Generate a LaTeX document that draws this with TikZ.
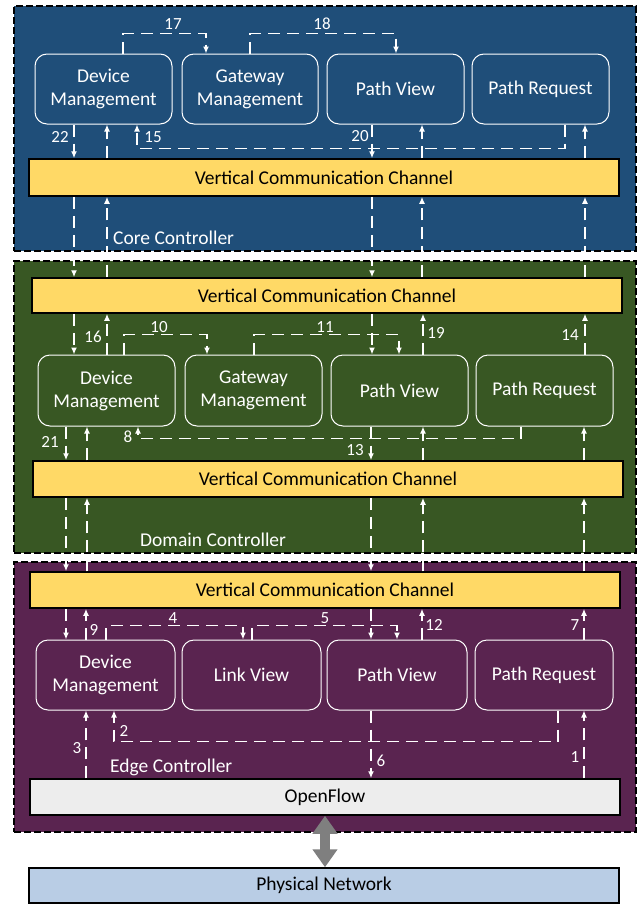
\documentclass[tikz,border=0pt]{standalone}
\usepackage{fontspec}
\setmainfont{Carlito}
\usetikzlibrary{arrows.meta}
\definecolor{coreblue}{HTML}{1F4E79}
\definecolor{domgreen}{HTML}{385723}
\definecolor{edgepurple}{HTML}{5A2450}
\definecolor{chanyellow}{HTML}{FFD966}
\definecolor{oflow}{HTML}{EDEDED}
\definecolor{physblue}{HTML}{B9CDE5}
\definecolor{linkgray}{HTML}{7F7F7F}

\begin{document}
\begin{tikzpicture}[x=1pt,y=-1pt,
  ctrl/.style={draw=black, line width=1.8pt, dash pattern=on 7pt off 3pt,
    preaction={draw=white,line width=1.8pt}, inner sep=0, minimum width=622pt},
  module/.style={draw=white, line width=1pt, rounded corners=12pt, text=white,
    align=center, inner sep=0, minimum height=70pt, minimum width=137pt,
    font=\fontsize{19.5}{23}\selectfont},
  bar/.style={draw=black, line width=1.5pt, fill=chanyellow, minimum width=590pt,
    minimum height=36pt, inner sep=0, font=\fontsize{19.5}{23}\selectfont},
  flow/.style={draw=white, line width=1.6pt, dash pattern=on 12pt off 7pt,
    -{Latex[length=7pt,width=6pt]}},
  num/.style={text=white, inner sep=0, font=\fontsize{17}{20}\selectfont},
  ctrlname/.style={text=white, inner sep=0, anchor=west,
    font=\fontsize{19.5}{23}\selectfont},
]
\useasboundingbox[fill=white] (0,0) rectangle (641,905);

% controller frames
\node[ctrl, fill=coreblue, minimum height=245pt] (core) at (325,128.5) {};
\node[ctrl, fill=domgreen, minimum height=292pt] (domain) at (325,407) {};
\node[ctrl, fill=edgepurple, minimum height=270pt] (edge) at (325,697) {};

\node[ctrlname] (corelbl) at (113,238) {Core Controller};
\node[ctrlname] (domlbl) at (140,540) {Domain Controller};
\node[ctrlname] (edgelbl) at (110,767) {Edge Controller};

% channels
\node[bar, minimum height=37pt] (vc1) at (324,177.5) {Vertical Communication Channel};
\node[bar, minimum height=35pt] (vc2) at (327,295.5) {Vertical Communication Channel};
\node[bar] (vc3) at (328,479) {Vertical Communication Channel};
\node[bar] (vc4) at (325,590) {Vertical Communication Channel};
\node[bar, fill=oflow] (of) at (325,797) {OpenFlow};
\node[bar, fill=physblue, minimum height=35pt] (pn) at (324,885.5) {Physical Network};

% core modules
\node[module] (cdm) at (103.5,89) {Device\\Management};
\node[module, minimum width=136pt] (cgm) at (250,89) {Gateway\\Management};
\node[module] (cpv) at (395.5,89) {Path View};
\node[module] (cpr) at (540.5,89) {Path Request};

% domain modules
\node[module, minimum height=71pt] (ddm) at (106.5,390.5) {Device\\Management};
\node[module, minimum height=71pt] (dgm) at (253.5,390.5) {Gateway\\Management};
\node[module, minimum height=71pt] (dpv) at (399.5,390.5) {Path View};
\node[module, minimum height=71pt] (dpr) at (544.5,390.5) {Path Request};

% edge modules
\node[module, minimum width=139pt] (edm) at (105.5,675) {Device\\Management};
\node[module, minimum width=139pt] (elv) at (251.5,675) {Link View};
\node[module, minimum width=140pt] (epv) at (397,675) {Path View};
\node[module, minimum width=138pt] (epr) at (544,675) {Path Request};

% OpenFlow <-> physical network
\draw[linkgray, line width=10pt,
  {Triangle[length=18pt,width=24pt]}-{Triangle[length=18pt,width=24pt]}]
  (of.south -| 325,0) -- (pn.north -| 325,0);

% core controller flows
\draw[flow] (cdm.south -| 74,0) -- (vc1.north -| 74,0);
\draw[flow] (vc1.north -| 107,0) -- (cdm.south -| 107,0);
\draw[flow] (cpr.south -| 565,0) -- ++(0,24) -| (cdm.south -| 137,0);
\draw[flow] (cdm.north -| 123,0) -- ++(0,-20) -| (cgm.north -| 206,0);
\draw[flow] (cgm.north -| 250,0) -- ++(0,-20) -| (cpv.north -| 396,0);
\draw[flow] (cpv.south -| 372,0) -- (vc1.north -| 372,0);
\draw[flow] (vc1.north -| 422,0) -- (cpv.south -| 422,0);
\draw[flow] (vc1.north -| 585,0) -- (cpr.south -| 585,0);

% core <-> domain
\draw[flow] (vc1.south -| 74,0) -- (vc2.north -| 74,0);
\draw[flow] (vc2.north -| 107,0) -- (vc1.south -| 107,0);
\draw[flow] (vc1.south -| 372,0) -- (vc2.north -| 372,0);
\draw[flow] (vc2.north -| 422,0) -- (vc1.south -| 422,0);
\draw[flow] (vc2.north -| 585,0) -- (vc1.south -| 585,0);

% domain controller flows
\draw[flow] (vc2.south -| 74,0) -- (ddm.north -| 74,0);
\draw[flow] (ddm.north -| 107,0) -- (vc2.south -| 107,0);
\draw[flow] (ddm.north -| 124,0) -- ++(0,-20) -| (dgm.north -| 207,0);
\draw[flow] (dgm.north -| 254,0) -- ++(0,-20) -| (dpv.north -| 399,0);
\draw[flow] (vc2.south -| 372,0) -- (dpv.north -| 372,0);
\draw[flow] (dpv.north -| 423,0) -- (vc2.south -| 423,0);
\draw[flow] (dpr.north -| 585,0) -- (vc2.south -| 585,0);

\draw[flow] (ddm.south -| 66,0) -- (vc3.north -| 66,0);
\draw[flow] (vc3.north -| 87,0) -- (ddm.south -| 87,0);
\draw[flow] (dpr.south -| 521,0) -- ++(0,12) -| (ddm.south -| 138,0);
\draw[flow] (dpv.south -| 371,0) -- (vc3.north -| 371,0);
\draw[flow] (vc3.north -| 423,0) -- (dpv.south -| 423,0);
\draw[flow] (vc3.north -| 584,0) -- (dpr.south -| 584,0);

% domain <-> edge
\draw[flow] (vc3.south -| 66,0) -- (vc4.north -| 66,0);
\draw[flow] (vc4.north -| 87,0) -- (vc3.south -| 87,0);
\draw[flow] (vc3.south -| 371,0) -- (vc4.north -| 371,0);
\draw[flow] (vc4.north -| 423,0) -- (vc3.south -| 423,0);
\draw[flow] (vc4.north -| 584,0) -- (vc3.south -| 584,0);

% edge controller flows
\draw[flow] (vc4.south -| 66,0) -- (edm.north -| 66,0);
\draw[flow] (edm.north -| 86,0) -- (vc4.south -| 86,0);
\draw[flow] (edm.north -| 106,0) -- ++(0,-14) -| (elv.north -| 243,0);
\draw[flow] (elv.north -| 252,0) -- ++(0,-14) -| (epv.north -| 397,0);
\draw[flow] (vc4.south -| 371,0) -- (epv.north -| 371,0);
\draw[flow] (epv.north -| 422,0) -- (vc4.south -| 422,0);
\draw[flow] (epr.north -| 584,0) -- (vc4.south -| 584,0);

\draw[flow] (of.north -| 86,0) -- (edm.south -| 86,0);
\draw[flow] (epr.south -| 558,0) -- ++(0,31) -| (edm.south -| 114,0);
\draw[flow] (epv.south -| 371,0) -- (of.north -| 371,0);
\draw[flow] (of.north -| 584,0) -- (epr.south -| 584,0);

% step numbers
\node[num] (n1) at (575,757) {1};
\node[num] (n2) at (124,731) {2};
\node[num] (n3) at (77,748) {3};
\node[num] (n4) at (173,618) {4};
\node[num] (n5) at (325,618) {5};
\node[num] (n6) at (381,761) {6};
\node[num] (n7) at (575,625) {7};
\node[num] (n8) at (128,437) {8};
\node[num] (n9) at (94,630) {9};
\node[num] (n10) at (159,327) {10};
\node[num] (n11) at (325,327) {11};
\node[num] (n12) at (434,625) {12};
\node[num] (n13) at (355,450) {13};
\node[num] (n14) at (570,335) {14};
\node[num] (n15) at (153,137) {15};
\node[num] (n16) at (93,337) {16};
\node[num] (n17) at (173,24) {17};
\node[num] (n18) at (322,24) {18};
\node[num] (n19) at (436,333) {19};
\node[num] (n20) at (360,136) {20};
\node[num] (n21) at (50,442) {21};
\node[num] (n22) at (60,137) {22};
\end{tikzpicture}
\end{document}
